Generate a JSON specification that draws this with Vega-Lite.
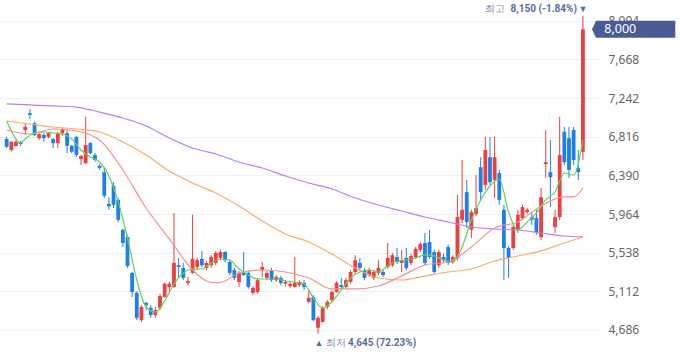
{
"$schema":"https://vega.github.io/schema/vega-lite/v6.json",
"width":600,"height":358,
"autosize":{"type":"none"},
"padding":{"left":0,"top":0,"right":80,"bottom":0},
"background":"#ffffff",
"config":{"view":{"stroke":null},"font":"Noto Sans"},
"datasets":{
"candles":[
{"i":0,"o":6790,"h":6815,"l":6690,"c":6705},
{"i":1,"o":6670,"h":6770,"l":6650,"c":6760},
{"i":2,"o":6715,"h":6780,"l":6705,"c":6760},
{"i":3,"o":6760,"h":6770,"l":6715,"c":6735},
{"i":4,"o":6890,"h":6965,"l":6835,"c":6925},
{"i":5,"o":7075,"h":7120,"l":7010,"c":7055},
{"i":6,"o":6965,"h":6980,"l":6825,"c":6835},
{"i":7,"o":6800,"h":6855,"l":6780,"c":6845},
{"i":8,"o":6835,"h":6855,"l":6760,"c":6800},
{"i":9,"o":6815,"h":6870,"l":6800,"c":6855},
{"i":10,"o":6790,"h":6800,"l":6690,"c":6745},
{"i":11,"o":6745,"h":6870,"l":6690,"c":6855},
{"i":12,"o":6855,"h":6910,"l":6825,"c":6890},
{"i":13,"o":6855,"h":6890,"l":6635,"c":6715},
{"i":14,"o":6715,"h":6725,"l":6635,"c":6650},
{"i":15,"o":6815,"h":6820,"l":6590,"c":6615},
{"i":16,"o":6570,"h":6615,"l":6505,"c":6605},
{"i":17,"o":6525,"h":7035,"l":6515,"c":6725},
{"i":18,"o":6745,"h":6760,"l":6625,"c":6635},
{"i":19,"o":6615,"h":6635,"l":6540,"c":6560},
{"i":20,"o":6495,"h":6515,"l":6450,"c":6470},
{"i":21,"o":6425,"h":6470,"l":6140,"c":6165},
{"i":22,"o":6075,"h":6150,"l":6010,"c":6050},
{"i":23,"o":6275,"h":6315,"l":6030,"c":6065},
{"i":24,"o":6120,"h":6140,"l":5875,"c":5900},
{"i":25,"o":5790,"h":5800,"l":5600,"c":5645},
{"i":26,"o":5710,"h":5735,"l":5370,"c":5390},
{"i":27,"o":5315,"h":5325,"l":5050,"c":5105},
{"i":28,"o":5095,"h":5115,"l":4795,"c":4820},
{"i":29,"o":4795,"h":4960,"l":4775,"c":4940},
{"i":30,"o":4985,"h":4995,"l":4905,"c":4960},
{"i":31,"o":4930,"h":4960,"l":4820,"c":4850},
{"i":32,"o":4850,"h":4940,"l":4820,"c":4905},
{"i":33,"o":4930,"h":5085,"l":4905,"c":5060},
{"i":34,"o":5050,"h":5205,"l":5040,"c":5195},
{"i":35,"o":5160,"h":5215,"l":5105,"c":5195},
{"i":36,"o":5160,"h":5975,"l":5150,"c":5425},
{"i":37,"o":5400,"h":5480,"l":5270,"c":5380},
{"i":38,"o":5370,"h":5425,"l":5235,"c":5260},
{"i":39,"o":5205,"h":5270,"l":5180,"c":5225},
{"i":40,"o":5315,"h":5955,"l":5305,"c":5470},
{"i":41,"o":5380,"h":5480,"l":5345,"c":5455},
{"i":42,"o":5470,"h":5555,"l":5380,"c":5400},
{"i":43,"o":5370,"h":5445,"l":5345,"c":5425},
{"i":44,"o":5400,"h":5510,"l":5370,"c":5490},
{"i":45,"o":5425,"h":5555,"l":5400,"c":5535},
{"i":46,"o":5480,"h":5570,"l":5455,"c":5545},
{"i":47,"o":5545,"h":5555,"l":5435,"c":5455},
{"i":48,"o":5435,"h":5455,"l":5290,"c":5315},
{"i":49,"o":5345,"h":5370,"l":5235,"c":5260},
{"i":50,"o":5215,"h":5335,"l":5160,"c":5315},
{"i":51,"o":5325,"h":5545,"l":5280,"c":5290},
{"i":52,"o":5315,"h":5335,"l":5140,"c":5160},
{"i":53,"o":5095,"h":5170,"l":5070,"c":5150},
{"i":54,"o":5105,"h":5260,"l":5085,"c":5235},
{"i":55,"o":5345,"h":5435,"l":5270,"c":5380},
{"i":56,"o":5260,"h":5335,"l":5235,"c":5315},
{"i":57,"o":5345,"h":5370,"l":5215,"c":5235},
{"i":58,"o":5235,"h":5290,"l":5215,"c":5270},
{"i":59,"o":5260,"h":5280,"l":5180,"c":5205},
{"i":60,"o":5195,"h":5235,"l":5170,"c":5215},
{"i":61,"o":5170,"h":5215,"l":5150,"c":5195},
{"i":62,"o":5160,"h":5490,"l":5150,"c":5205},
{"i":63,"o":5180,"h":5235,"l":5160,"c":5215},
{"i":64,"o":5205,"h":5235,"l":5125,"c":5160},
{"i":65,"o":4995,"h":5125,"l":4985,"c":5040},
{"i":66,"o":5050,"h":5070,"l":4785,"c":4795},
{"i":67,"o":4710,"h":4840,"l":4645,"c":4820},
{"i":68,"o":4775,"h":4950,"l":4765,"c":4930},
{"i":69,"o":4940,"h":5015,"l":4915,"c":4995},
{"i":70,"o":5015,"h":5125,"l":4995,"c":5105},
{"i":71,"o":5105,"h":5225,"l":5095,"c":5205},
{"i":72,"o":5180,"h":5260,"l":5125,"c":5160},
{"i":73,"o":5160,"h":5260,"l":5140,"c":5235},
{"i":74,"o":5215,"h":5345,"l":5195,"c":5325},
{"i":75,"o":5325,"h":5510,"l":5305,"c":5455},
{"i":76,"o":5425,"h":5480,"l":5345,"c":5370},
{"i":77,"o":5345,"h":5370,"l":5235,"c":5260},
{"i":78,"o":5290,"h":5370,"l":5270,"c":5345},
{"i":79,"o":5260,"h":5345,"l":5235,"c":5325},
{"i":80,"o":5315,"h":5455,"l":5290,"c":5370},
{"i":81,"o":5325,"h":5345,"l":5270,"c":5290},
{"i":82,"o":5380,"h":5645,"l":5360,"c":5480},
{"i":83,"o":5400,"h":5535,"l":5380,"c":5510},
{"i":84,"o":5490,"h":5590,"l":5415,"c":5435},
{"i":85,"o":5425,"h":5570,"l":5325,"c":5455},
{"i":86,"o":5480,"h":5590,"l":5345,"c":5370},
{"i":87,"o":5425,"h":5525,"l":5400,"c":5500},
{"i":88,"o":5490,"h":5600,"l":5470,"c":5580},
{"i":89,"o":5570,"h":5655,"l":5545,"c":5635},
{"i":90,"o":5645,"h":5755,"l":5400,"c":5425},
{"i":91,"o":5655,"h":5790,"l":5470,"c":5490},
{"i":92,"o":5545,"h":5570,"l":5305,"c":5325},
{"i":93,"o":5400,"h":5570,"l":5370,"c":5545},
{"i":94,"o":5490,"h":5525,"l":5435,"c":5455},
{"i":95,"o":5600,"h":5625,"l":5400,"c":5425},
{"i":96,"o":5435,"h":5510,"l":5415,"c":5490},
{"i":97,"o":5480,"h":6175,"l":5455,"c":5930},
{"i":98,"o":5900,"h":6560,"l":5865,"c":6010},
{"i":99,"o":6205,"h":6340,"l":5810,"c":5875},
{"i":100,"o":5790,"h":6010,"l":5700,"c":5985},
{"i":101,"o":5965,"h":6395,"l":5940,"c":6030},
{"i":102,"o":6480,"h":6590,"l":6120,"c":6205},
{"i":103,"o":6285,"h":6815,"l":6230,"c":6670},
{"i":104,"o":6590,"h":6815,"l":6285,"c":6315},
{"i":105,"o":6340,"h":6815,"l":6140,"c":6590},
{"i":106,"o":6415,"h":6450,"l":6065,"c":6120},
{"i":107,"o":6010,"h":6065,"l":5235,"c":5590},
{"i":108,"o":5590,"h":5610,"l":5260,"c":5480},
{"i":109,"o":5590,"h":5845,"l":5570,"c":5820},
{"i":110,"o":5790,"h":6010,"l":5755,"c":5955},
{"i":111,"o":5920,"h":6065,"l":5900,"c":6040},
{"i":112,"o":5985,"h":6030,"l":5965,"c":6010},
{"i":113,"o":5930,"h":5985,"l":5845,"c":5900},
{"i":114,"o":5920,"h":6010,"l":5735,"c":5765},
{"i":115,"o":5710,"h":6250,"l":5680,"c":6150},
{"i":116,"o":6515,"h":6890,"l":6360,"c":6535},
{"i":117,"o":6425,"h":6780,"l":6040,"c":6370},
{"i":118,"o":5820,"h":6010,"l":5755,"c":5930},
{"i":119,"o":5930,"h":7035,"l":5900,"c":6615},
{"i":120,"o":6870,"h":6925,"l":6505,"c":6535},
{"i":121,"o":6800,"h":6925,"l":6360,"c":6450},
{"i":122,"o":6890,"h":6925,"l":6505,"c":6560},
{"i":123,"o":6470,"h":6670,"l":6340,"c":6425},
{"i":124,"o":6650,"h":8150,"l":6560,"c":8000}
],
"ma":[
{"s":"MA120","i":0,"v":7177},{"s":"MA120","i":5,"v":7166},{"s":"MA120","i":10,"v":7155},{"s":"MA120","i":15,"v":7143},{"s":"MA120","i":20,"v":7088},{"s":"MA120","i":25,"v":7022},{"s":"MA120","i":30,"v":6934},{"s":"MA120","i":35,"v":6802},{"s":"MA120","i":40,"v":6692},{"s":"MA120","i":45,"v":6626},{"s":"MA120","i":50,"v":6537},{"s":"MA120","i":55,"v":6471},{"s":"MA120","i":60,"v":6383},{"s":"MA120","i":65,"v":6306},{"s":"MA120","i":70,"v":6240},{"s":"MA120","i":75,"v":6141},{"s":"MA120","i":80,"v":6063},{"s":"MA120","i":85,"v":5997},{"s":"MA120","i":90,"v":5931},{"s":"MA120","i":95,"v":5876},{"s":"MA120","i":100,"v":5821},{"s":"MA120","i":105,"v":5799},{"s":"MA120","i":110,"v":5788},{"s":"MA120","i":115,"v":5755},{"s":"MA120","i":120,"v":5722},{"s":"MA120","i":124,"v":5711},
{"s":"MA60","i":0,"v":6989},{"s":"MA60","i":5,"v":6956},{"s":"MA60","i":10,"v":6923},{"s":"MA60","i":15,"v":6901},{"s":"MA60","i":20,"v":6868},{"s":"MA60","i":25,"v":6758},{"s":"MA60","i":30,"v":6615},{"s":"MA60","i":35,"v":6438},{"s":"MA60","i":40,"v":6306},{"s":"MA60","i":45,"v":6196},{"s":"MA60","i":50,"v":6052},{"s":"MA60","i":55,"v":5887},{"s":"MA60","i":60,"v":5744},{"s":"MA60","i":65,"v":5656},{"s":"MA60","i":70,"v":5523},{"s":"MA60","i":75,"v":5369},{"s":"MA60","i":80,"v":5259},{"s":"MA60","i":85,"v":5237},{"s":"MA60","i":90,"v":5281},{"s":"MA60","i":95,"v":5325},{"s":"MA60","i":100,"v":5358},{"s":"MA60","i":105,"v":5446},{"s":"MA60","i":110,"v":5501},{"s":"MA60","i":115,"v":5557},{"s":"MA60","i":120,"v":5645},{"s":"MA60","i":124,"v":5711},
{"s":"MA20","i":0,"v":6890},{"s":"MA20","i":5,"v":6846},{"s":"MA20","i":10,"v":6901},{"s":"MA20","i":15,"v":6879},{"s":"MA20","i":20,"v":6780},{"s":"MA20","i":25,"v":6449},{"s":"MA20","i":30,"v":6030},{"s":"MA20","i":35,"v":5689},{"s":"MA20","i":40,"v":5347},{"s":"MA20","i":43,"v":5226},{"s":"MA20","i":45,"v":5204},{"s":"MA20","i":47,"v":5226},{"s":"MA20","i":50,"v":5314},{"s":"MA20","i":55,"v":5347},{"s":"MA20","i":60,"v":5325},{"s":"MA20","i":65,"v":5259},{"s":"MA20","i":70,"v":5138},{"s":"MA20","i":75,"v":5138},{"s":"MA20","i":80,"v":5171},{"s":"MA20","i":85,"v":5281},{"s":"MA20","i":90,"v":5402},{"s":"MA20","i":95,"v":5435},{"s":"MA20","i":100,"v":5601},{"s":"MA20","i":105,"v":5810},{"s":"MA20","i":110,"v":5876},{"s":"MA20","i":115,"v":6053},{"s":"MA20","i":120,"v":6152},{"s":"MA20","i":122,"v":6152},{"s":"MA20","i":124,"v":6251},
{"s":"MA5","i":0,"v":6989},{"s":"MA5","i":2,"v":6791},{"s":"MA5","i":3,"v":6747},{"s":"MA5","i":4,"v":6791},{"s":"MA5","i":6,"v":6857},{"s":"MA5","i":8,"v":6868},{"s":"MA5","i":10,"v":6857},{"s":"MA5","i":12,"v":6846},{"s":"MA5","i":14,"v":6791},{"s":"MA5","i":16,"v":6670},{"s":"MA5","i":18,"v":6592},{"s":"MA5","i":20,"v":6537},{"s":"MA5","i":22,"v":6383},{"s":"MA5","i":24,"v":6097},{"s":"MA5","i":26,"v":5700},{"s":"MA5","i":28,"v":5237},{"s":"MA5","i":30,"v":4939},{"s":"MA5","i":32,"v":4884},{"s":"MA5","i":34,"v":5006},{"s":"MA5","i":36,"v":5193},{"s":"MA5","i":38,"v":5314},{"s":"MA5","i":40,"v":5358},{"s":"MA5","i":42,"v":5358},{"s":"MA5","i":44,"v":5424},{"s":"MA5","i":46,"v":5468},{"s":"MA5","i":48,"v":5457},{"s":"MA5","i":50,"v":5358},{"s":"MA5","i":52,"v":5292},{"s":"MA5","i":54,"v":5248},{"s":"MA5","i":56,"v":5248},{"s":"MA5","i":58,"v":5248},{"s":"MA5","i":60,"v":5226},{"s":"MA5","i":62,"v":5215},{"s":"MA5","i":64,"v":5193},{"s":"MA5","i":66,"v":5039},{"s":"MA5","i":68,"v":4928},{"s":"MA5","i":70,"v":4995},{"s":"MA5","i":72,"v":5127},{"s":"MA5","i":74,"v":5259},{"s":"MA5","i":76,"v":5325},{"s":"MA5","i":78,"v":5347},{"s":"MA5","i":80,"v":5325},{"s":"MA5","i":82,"v":5391},{"s":"MA5","i":84,"v":5446},{"s":"MA5","i":86,"v":5457},{"s":"MA5","i":88,"v":5479},{"s":"MA5","i":90,"v":5513},{"s":"MA5","i":92,"v":5502},{"s":"MA5","i":94,"v":5457},{"s":"MA5","i":96,"v":5435},{"s":"MA5","i":98,"v":5601},{"s":"MA5","i":100,"v":5898},{"s":"MA5","i":102,"v":6119},{"s":"MA5","i":104,"v":6273},{"s":"MA5","i":106,"v":6350},{"s":"MA5","i":108,"v":5986},{"s":"MA5","i":110,"v":5788},{"s":"MA5","i":112,"v":5876},{"s":"MA5","i":114,"v":5975},{"s":"MA5","i":116,"v":6119},{"s":"MA5","i":118,"v":6207},{"s":"MA5","i":120,"v":6416},{"s":"MA5","i":122,"v":6394},{"s":"MA5","i":124,"v":6780}
],
"hi":[{"i":124,"v":8150,"a":"최고","b":"8,150 (-1.84%)","m":"▼"}],
"lo":[{"i":67,"v":4645,"a":"최저","b":"4,645 (72.23%)","m":"▲"}],
"last":[{"v":8000,"t":"8,000"}]
},
"layer":[
{"data":{"name":"candles"},"mark":{"type":"rule","strokeWidth":1},
 "encoding":{
  "x":{"field":"i","type":"quantitative","scale":{"domain":[-0.36,126.6],"nice":false,"zero":false},"axis":null},
  "y":{"field":"l","type":"quantitative","title":null,"scale":{"domain":[4377,8323],"nice":false,"zero":false},
       "axis":{"orient":"right","values":[4686,5112,5538,5964,6390,6816,7242,7668,8094],"format":",d","grid":true,"gridColor":"#eef0f5","gridWidth":1,"domain":false,"ticks":false,"labelPadding":8,"labelFontSize":12,"labelColor":"#666666","labelFont":"Noto Sans","title":null}},
  "y2":{"field":"h"},
  "color":{"condition":{"test":"datum.c >= datum.o","value":"#ef3e3e"},"value":"#1f7fe8"}}},
{"data":{"name":"candles"},"mark":{"type":"bar","width":3.8},
 "encoding":{
  "x":{"field":"i","type":"quantitative","axis":null},
  "y":{"field":"o","type":"quantitative","title":null},
  "y2":{"field":"c"},
  "color":{"condition":{"test":"datum.c >= datum.o","value":"#ef3e3e"},"value":"#1f7fe8"}}},
{"data":{"name":"ma"},"mark":{"type":"line","strokeWidth":1.2,"interpolate":"monotone"},
 "encoding":{
  "x":{"field":"i","type":"quantitative","axis":null},
  "y":{"field":"v","type":"quantitative","title":null},
  "color":{"field":"s","type":"nominal","legend":null,"scale":{"domain":["MA5","MA20","MA60","MA120"],"range":["#5fd35f","#f59090","#f8ab68","#b57ff6"]}}}},
{"data":{"name":"hi"},"mark":{"type":"text","align":"center","baseline":"middle","dy":-7,"fontSize":9,"color":"#5b6c9f"},
 "encoding":{"x":{"field":"i","type":"quantitative","axis":null},"y":{"field":"v","type":"quantitative","title":null},"text":{"field":"m"}}},
{"data":{"name":"hi"},"mark":{"type":"text","align":"right","baseline":"middle","dx":-6,"dy":-7,"fontSize":10,"font":"Roboto","fontWeight":"bold","color":"#5b6c9f"},
 "encoding":{"x":{"field":"i","type":"quantitative","axis":null},"y":{"field":"v","type":"quantitative","title":null},"text":{"field":"b"}}},
{"data":{"name":"hi"},"mark":{"type":"text","align":"right","baseline":"middle","dx":-78,"dy":-7,"fontSize":9.5,"color":"#7d88a8"},
 "encoding":{"x":{"field":"i","type":"quantitative","axis":null},"y":{"field":"v","type":"quantitative","title":null},"text":{"field":"a"}}},
{"data":{"name":"lo"},"mark":{"type":"text","align":"center","baseline":"middle","dx":1,"dy":9.5,"fontSize":9,"color":"#5b6c9f"},
 "encoding":{"x":{"field":"i","type":"quantitative","axis":null},"y":{"field":"v","type":"quantitative","title":null},"text":{"field":"m"}}},
{"data":{"name":"lo"},"mark":{"type":"text","align":"left","baseline":"middle","dx":7.5,"dy":9.5,"fontSize":9.5,"color":"#7d88a8"},
 "encoding":{"x":{"field":"i","type":"quantitative","axis":null},"y":{"field":"v","type":"quantitative","title":null},"text":{"field":"a"}}},
{"data":{"name":"lo"},"mark":{"type":"text","align":"left","baseline":"middle","dx":30,"dy":9.5,"fontSize":10,"font":"Roboto","fontWeight":"bold","color":"#5b6c9f"},
 "encoding":{"x":{"field":"i","type":"quantitative","axis":null},"y":{"field":"v","type":"quantitative","title":null},"text":{"field":"b"}}},
{"data":{"name":"last"},"mark":{"type":"point","shape":"M0,0L0.47,-1L9.8,-1L9.8,1L0.47,1Z","size":289,"filled":true,"opacity":1,"color":"#4a5c93","strokeWidth":0},
 "encoding":{"x":{"datum":125.96,"type":"quantitative"},"y":{"field":"v","type":"quantitative","title":null}}},
{"data":{"name":"last"},"mark":{"type":"text","align":"left","baseline":"middle","fontSize":12.5,"color":"#ffffff"},
 "encoding":{"x":{"datum":128.6,"type":"quantitative"},"y":{"field":"v","type":"quantitative","title":null},"text":{"field":"t"}}}
]
}
